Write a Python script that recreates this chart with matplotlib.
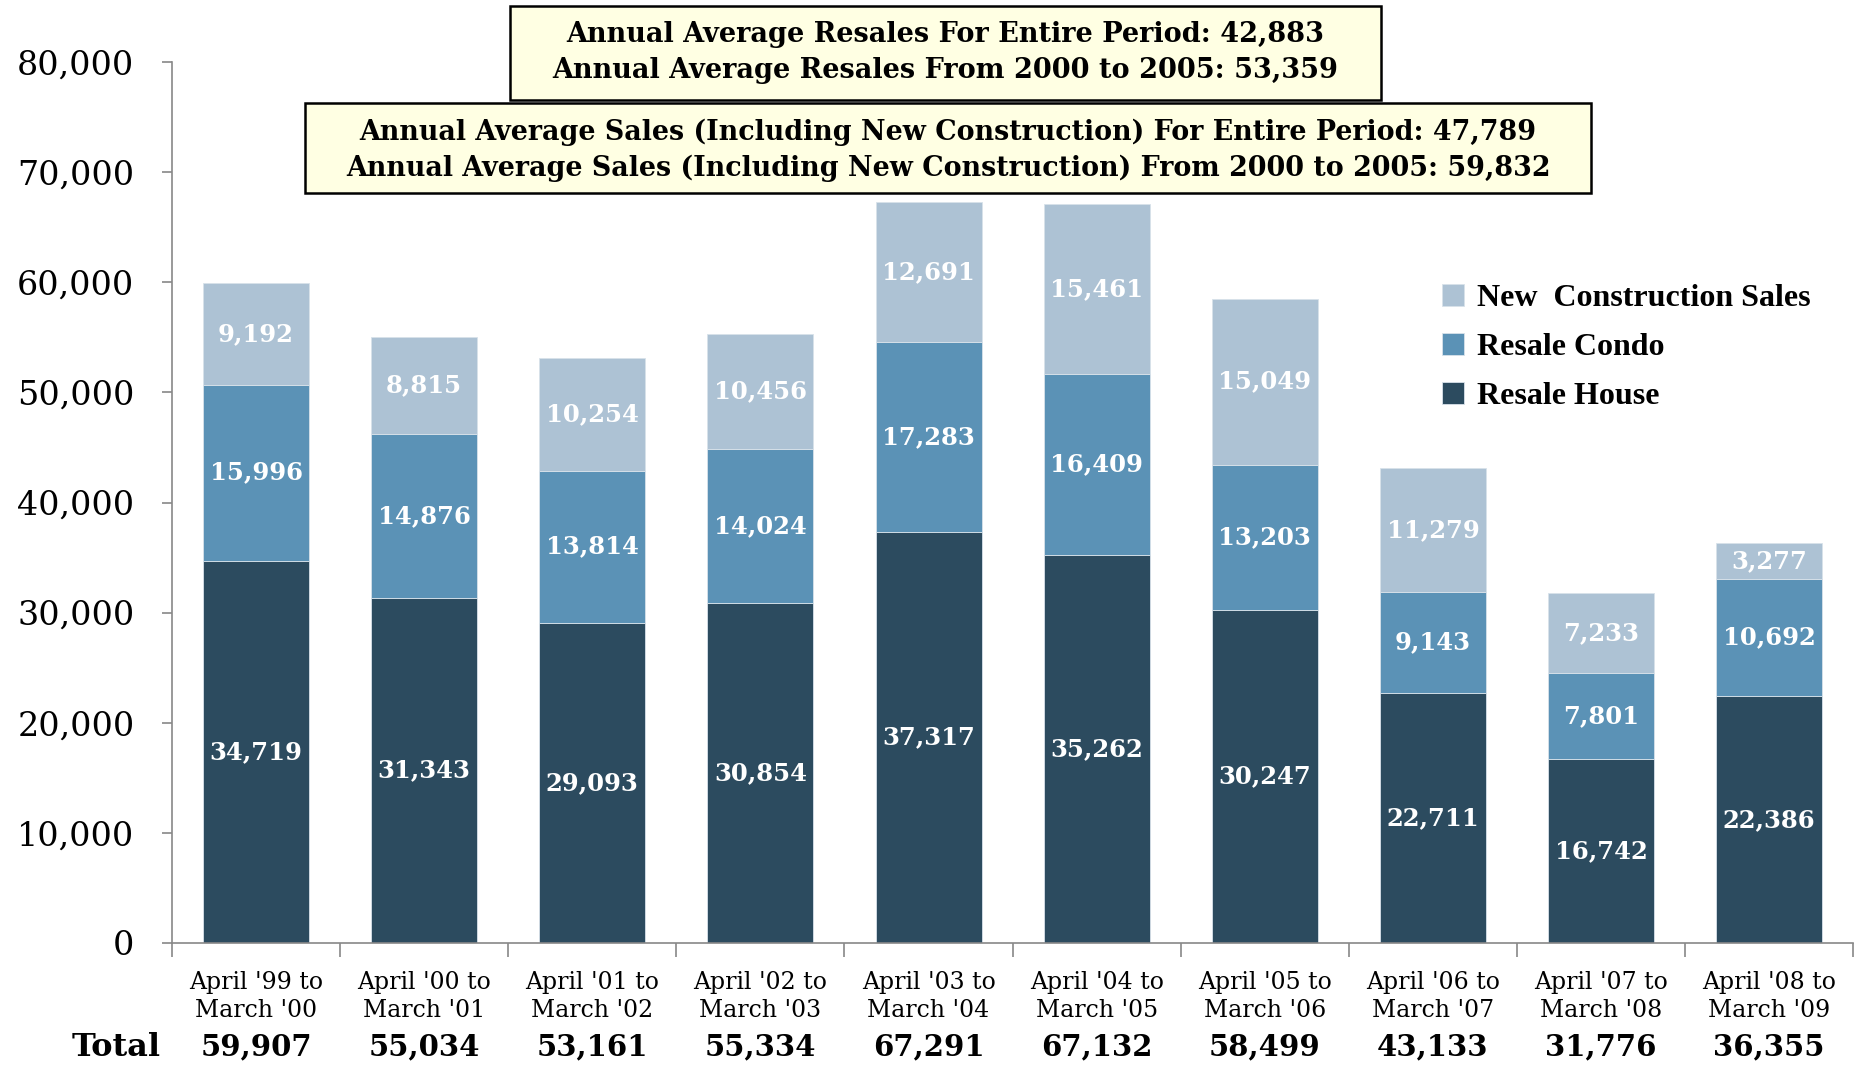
import matplotlib
matplotlib.use("Agg")
import matplotlib.pyplot as plt
from matplotlib.patches import Rectangle
import numpy as np

periods = ["April '99 to\nMarch '00", "April '00 to\nMarch '01", "April '01 to\nMarch '02",
           "April '02 to\nMarch '03", "April '03 to\nMarch '04", "April '04 to\nMarch '05",
           "April '05 to\nMarch '06", "April '06 to\nMarch '07", "April '07 to\nMarch '08",
           "April '08 to\nMarch '09"]
resale_house = [34719, 31343, 29093, 30854, 37317, 35262, 30247, 22711, 16742, 22386]
resale_condo = [15996, 14876, 13814, 14024, 17283, 16409, 13203, 9143, 7801, 10692]
new_constr = [9192, 8815, 10254, 10456, 12691, 15461, 15049, 11279, 7233, 3277]
totals = [59907, 55034, 53161, 55334, 67291, 67132, 58499, 43133, 31776, 36355]

box1_lines = ["Annual Average Resales For Entire Period: 42,883",
              "Annual Average Resales From 2000 to 2005: 53,359"]
box2_lines = ["Annual Average Sales (Including New Construction) For Entire Period: 47,789",
              "Annual Average Sales (Including New Construction) From 2000 to 2005: 59,832"]

c_house = '#2c4b5f'
c_condo = '#5b92b6'
c_new = '#adc2d4'
serif = 'DejaVu Serif'

fig = plt.figure(figsize=(18.57, 10.66), dpi=100)
ax = fig.add_axes([0.0926, 0.1154, 0.9054, 0.8264])

x = np.arange(len(periods))
w = 0.63
house = np.array(resale_house)
condo = np.array(resale_condo)
new = np.array(new_constr)

b1 = ax.bar(x, house, w, color=c_house, edgecolor='#d8e2ea', linewidth=0.6, label='Resale House')
b2 = ax.bar(x, condo, w, bottom=house, color=c_condo, edgecolor='#d8e2ea', linewidth=0.6, label='Resale Condo')
b3 = ax.bar(x, new, w, bottom=house + condo, color=c_new, edgecolor='#d8e2ea', linewidth=0.6,
            label='New  Construction Sales')

# segment labels
for i in range(len(x)):
    for bot, val in [(0, house[i]), (house[i], condo[i]), (house[i] + condo[i], new[i])]:
        ax.text(x[i], bot + val / 2, '{:,}'.format(val), ha='center', va='center',
                color='white', fontsize=17.5, fontweight='bold', family=serif)

ax.set_xlim(-0.5, len(x) - 0.5)
ax.set_ylim(0, 80000)
ax.set_yticks(np.arange(0, 80001, 10000))
ax.set_yticklabels(['{:,}'.format(v) for v in range(0, 80001, 10000)], family=serif, fontsize=24)
ax.tick_params(axis='y', length=7, color='#888888', width=1.2, pad=20)

ax.set_xticks(np.arange(-0.5, len(x), 1.0))
ax.set_xticklabels([])
ax.tick_params(axis='x', which='major', length=10, color='#888888', width=1.2)
ax.set_xticks(x, minor=True)
ax.set_xticklabels(periods, minor=True, family=serif, fontsize=17, linespacing=1.3)
ax.tick_params(axis='x', which='minor', length=0, pad=20)

for s in ['top', 'right']:
    ax.spines[s].set_visible(False)
for s in ['left', 'bottom']:
    ax.spines[s].set_color('#888888')
    ax.spines[s].set_linewidth(1.2)

# totals row
tr = ax.get_xaxis_transform()
for i in range(len(x)):
    ax.text(x[i], -0.118, '{:,}'.format(totals[i]), transform=tr, ha='center', va='center',
            fontsize=21, fontweight='bold', family=serif)
fig.text(0.0628, 1 - 1047 / 1066, 'Total', ha='center', va='center', fontsize=23,
         fontweight='bold', family=serif)

# legend
leg = ax.legend(handles=[b3, b2, b1], loc='upper left', bbox_to_anchor=(0.761, 1 - 255 / 1066),
                bbox_transform=fig.transFigure, frameon=False, handlelength=0.7, handleheight=0.7,
                handletextpad=0.4, labelspacing=0.62,
                prop={'family': 'Liberation Serif', 'weight': 'bold', 'size': 23})

# summary boxes
W, H = 1857.0, 1066.0
def summary_box(x0, y0, x1, y1, lines, ys, size):
    fig.patches.append(Rectangle((x0 / W, 1 - y1 / H), (x1 - x0) / W, (y1 - y0) / H,
                                 transform=fig.transFigure, facecolor='#ffffe3',
                                 edgecolor='black', linewidth=1.8, zorder=5))
    for line, yy in zip(lines, ys):
        fig.text((x0 + x1) / 2 / W, 1 - yy / H, line, ha='center', va='center',
                 fontsize=size, fontweight='bold', family=serif, zorder=6)

summary_box(510, 6, 1381, 100, box1_lines, [35, 71], 19.5)
summary_box(305, 103, 1591, 193, box2_lines, [132, 168], 19.4)

fig.savefig('out.png', dpi=100)
